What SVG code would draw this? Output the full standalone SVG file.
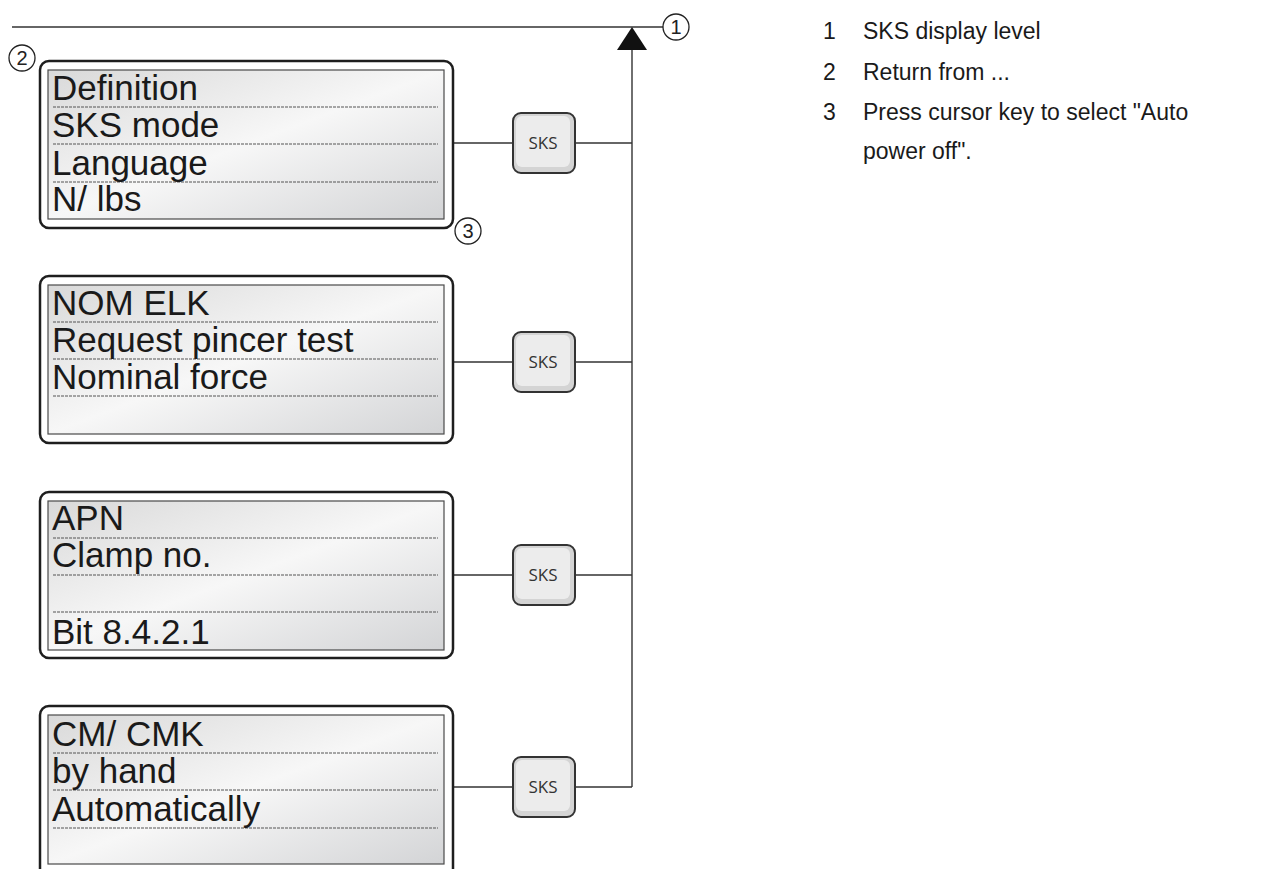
<svg xmlns="http://www.w3.org/2000/svg" width="1274" height="869" viewBox="0 0 1274 869">
<style>
.outer{fill:#fff;stroke:#1e1e1e;stroke-width:2.5}
.inner{fill:url(#lcd);stroke:#4a4a4a;stroke-width:1.2}
.dash{stroke:#555;stroke-width:1;stroke-dasharray:3 1;fill:none}
.lcdt{font-family:"Liberation Sans",Arial,sans-serif;font-size:35px;fill:#1a1a1a}
.btn{fill:#d4d4d4;stroke:#333;stroke-width:2}
.btnin{fill:#ececec}
.btnt{font-family:"Open Sans",sans-serif;font-size:17px;fill:#333;text-anchor:middle}
.ln{stroke:#333;stroke-width:1.4;fill:none}
.circ{fill:#fff;stroke:#222;stroke-width:1.3}
.num{font-family:"Liberation Sans",Arial,sans-serif;font-size:20px;fill:#222;text-anchor:middle}
.leg{font-family:"Liberation Sans",Arial,sans-serif;font-size:23px;fill:#1a1a1a}
</style>
<defs>
<linearGradient id="lcd" x1="0" y1="0" x2="1" y2="1">
<stop offset="0" stop-color="#d9d9d9"/>
<stop offset="0.5" stop-color="#f7f7f7"/>
<stop offset="1" stop-color="#d3d4d6"/>
</linearGradient>
</defs>
<rect width="1274" height="869" fill="#fff"/>

<g id="connectors">
<line class="ln" x1="12" y1="27" x2="663" y2="27"/>
<polygon points="632,27 617,50 647,50" fill="#111"/>
<line class="ln" x1="632" y1="50" x2="632" y2="787"/>
<line class="ln" x1="453" y1="143" x2="513" y2="143"/>
<line class="ln" x1="575" y1="143" x2="632" y2="143"/>
<line class="ln" x1="453" y1="362" x2="513" y2="362"/>
<line class="ln" x1="575" y1="362" x2="632" y2="362"/>
<line class="ln" x1="453" y1="575" x2="513" y2="575"/>
<line class="ln" x1="575" y1="575" x2="632" y2="575"/>
<line class="ln" x1="453" y1="787" x2="513" y2="787"/>
<line class="ln" x1="575" y1="787" x2="632" y2="787"/>
</g>

<g id="display1">
<rect class="outer" x="40" y="61" width="413" height="167" rx="9"/>
<rect class="inner" x="48" y="70" width="396" height="149"/>
<line class="dash" x1="53" y1="107" x2="438" y2="107"/>
<line class="dash" x1="53" y1="144" x2="438" y2="144"/>
<line class="dash" x1="53" y1="182" x2="438" y2="182"/>
<text class="lcdt" x="52" y="100">Definition</text>
<text class="lcdt" x="52" y="137">SKS mode</text>
<text class="lcdt" x="52" y="175">Language</text>
<text class="lcdt" x="52" y="211">N/ lbs</text>
</g>

<g id="display2">
<rect class="outer" x="40" y="276" width="413" height="167" rx="9"/>
<rect class="inner" x="48" y="285" width="396" height="149"/>
<line class="dash" x1="53" y1="322" x2="438" y2="322"/>
<line class="dash" x1="53" y1="359" x2="438" y2="359"/>
<line class="dash" x1="53" y1="396" x2="438" y2="396"/>
<text class="lcdt" x="52" y="315">NOM ELK</text>
<text class="lcdt" x="52" y="352">Request pincer test</text>
<text class="lcdt" x="52" y="389">Nominal force</text>
</g>

<g id="display3">
<rect class="outer" x="40" y="492" width="413" height="166" rx="9"/>
<rect class="inner" x="48" y="501" width="396" height="149"/>
<line class="dash" x1="53" y1="538" x2="438" y2="538"/>
<line class="dash" x1="53" y1="575" x2="438" y2="575"/>
<line class="dash" x1="53" y1="612" x2="438" y2="612"/>
<text class="lcdt" x="52" y="530">APN</text>
<text class="lcdt" x="52" y="567">Clamp no.</text>
<text class="lcdt" x="52" y="644">Bit 8.4.2.1</text>
</g>

<g id="display4">
<rect class="outer" x="40" y="706" width="413" height="190" rx="9"/>
<rect class="inner" x="48" y="715" width="396" height="149"/>
<line class="dash" x1="53" y1="753" x2="438" y2="753"/>
<line class="dash" x1="53" y1="790" x2="438" y2="790"/>
<line class="dash" x1="53" y1="828" x2="438" y2="828"/>
<text class="lcdt" x="52" y="746">CM/ CMK</text>
<text class="lcdt" x="52" y="783">by hand</text>
<text class="lcdt" x="52" y="821">Automatically</text>
</g>

<g id="sks1">
<rect class="btn" x="513" y="113" width="62" height="60" rx="8"/>
<rect class="btnin" x="516" y="116" width="54" height="51" rx="6"/>
<text class="btnt" x="543" y="149">SKS</text>
</g>
<g id="sks2">
<rect class="btn" x="513" y="332" width="62" height="60" rx="8"/>
<rect class="btnin" x="516" y="335" width="54" height="51" rx="6"/>
<text class="btnt" x="543" y="368">SKS</text>
</g>
<g id="sks3">
<rect class="btn" x="513" y="545" width="62" height="60" rx="8"/>
<rect class="btnin" x="516" y="548" width="54" height="51" rx="6"/>
<text class="btnt" x="543" y="581">SKS</text>
</g>
<g id="sks4">
<rect class="btn" x="513" y="757" width="62" height="60" rx="8"/>
<rect class="btnin" x="516" y="760" width="54" height="51" rx="6"/>
<text class="btnt" x="543" y="793">SKS</text>
</g>

<g id="callout1">
<circle class="circ" cx="676" cy="27" r="13"/>
<text class="num" x="676" y="34">1</text>
</g>
<g id="callout2">
<circle class="circ" cx="22" cy="58" r="13"/>
<text class="num" x="22" y="65">2</text>
</g>
<g id="callout3">
<circle class="circ" cx="468" cy="231" r="13"/>
<text class="num" x="468" y="238">3</text>
</g>

<g id="legend">
<text class="leg" x="823" y="39">1</text>
<text class="leg" x="863" y="39">SKS display level</text>
<text class="leg" x="823" y="80">2</text>
<text class="leg" x="863" y="80">Return from ...</text>
<text class="leg" x="823" y="120">3</text>
<text class="leg" x="863" y="120">Press cursor key to select "Auto</text>
<text class="leg" x="863" y="159">power off".</text>
</g>
</svg>
